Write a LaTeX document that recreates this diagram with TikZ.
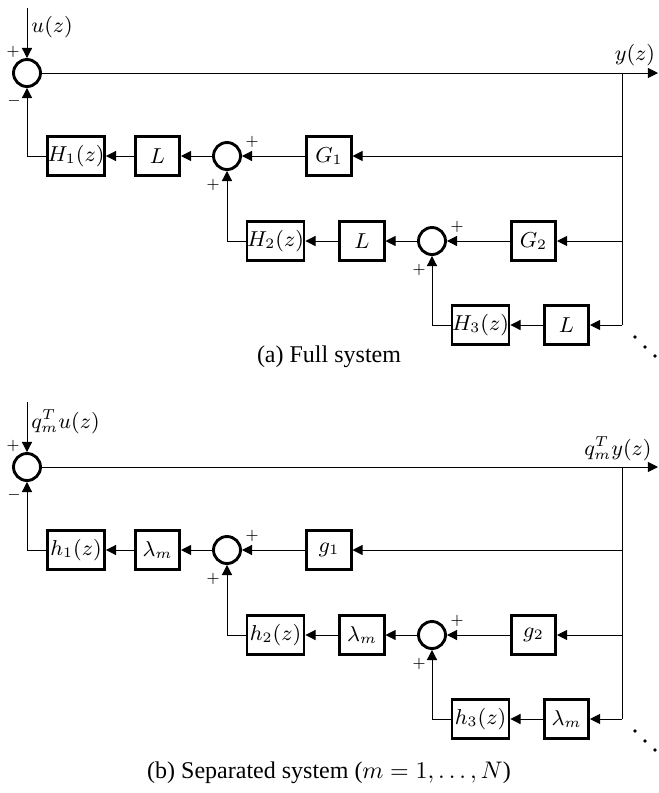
\documentclass[tikz,border=0pt]{standalone}
\usepackage{fontspec}
\setmainfont{Liberation Serif}
\usetikzlibrary{arrows.meta}
\begin{document}
\begin{tikzpicture}[x=0.41667pt,y=-0.41667pt,
  blk/.style={draw,very thick,minimum height=16.25pt,inner sep=0pt,font=\fontsize{9}{11}\selectfont},
  wide/.style={blk,minimum width=23.75pt},
  narrow/.style={blk,minimum width=18.4pt},
  sumc/.style={draw,very thick,circle,minimum size=11.25pt,inner sep=0pt},
  conn/.style={-{Triangle[length=4.2pt,width=4.2pt]},line width=0.4pt},
  wire/.style={line width=0.4pt},
  sgn/.style={font=\fontsize{6.5}{7}\selectfont,inner sep=0pt},
  lbl/.style={font=\fontsize{9}{11}\selectfont,inner sep=0pt},
  captxt/.style={font=\fontsize{10}{12}\selectfont,inner sep=0pt}]
\useasboundingbox (0,0) rectangle (658,793);

% ---------------- panel (a) ----------------
\coordinate (ain) at (27,8);
\node[sumc] (aS1) at (27,73) {};
\coordinate (aout) at (658,73);
\coordinate (abr0) at (622,73);
\coordinate (abr1) at (622,156);
\coordinate (abr2) at (622,241);
\coordinate (abr3) at (622,325);
\node[wide] (aH1) at (76,156) {$H_1(z)$};
\node[narrow] (aL1) at (157.5,156) {$L$};
\node[sumc] (aS2) at (227,156) {};
\node[narrow] (aG1) at (329,156) {$G_1$};
\node[wide] (aH2) at (275.5,241) {$H_2(z)$};
\node[narrow] (aL2) at (362,241) {$L$};
\node[sumc] (aS3) at (432,241) {};
\node[narrow] (aG2) at (533.5,241) {$G_2$};
\node[wide] (aH3) at (480.5,325) {$H_3(z)$};
\node[narrow] (aL3) at (566.5,325) {$L$};

\draw[conn] (ain) -- (aS1);
\draw[conn] (aS1) -- (aout);
\draw[wire] (abr0) -- (abr3);
\draw[conn] (abr1) -- (aG1);
\draw[conn] (aG1) -- (aS2);
\draw[conn] (aS2) -- (aL1);
\draw[conn] (aL1) -- (aH1);
\draw[conn] (aH1.west) -| (aS1.south);
\draw[conn] (abr2) -- (aG2);
\draw[conn] (aG2) -- (aS3);
\draw[conn] (aS3) -- (aL2);
\draw[conn] (aL2) -- (aH2);
\draw[conn] (aH2.west) -| (aS2.south);
\draw[conn] (abr3) -- (aL3);
\draw[conn] (aL3) -- (aH3);
\draw[conn] (aH3.west) -| (aS3.south);

\node[lbl,anchor=west] (au) at (31,27) {$u(z)$};
\node[lbl] (ay) at (635,55) {$y(z)$};
\node[sgn] (ap1) at (13,52) {$+$};
\node[sgn] (am1) at (14,101) {$-$};
\node[sgn] (ap2) at (252,142) {$+$};
\node[sgn] (ap3) at (213,185) {$+$};
\node[sgn] (ap4) at (457,227) {$+$};
\node[sgn] (ap5) at (419,270) {$+$};
\fill (635,337) circle (1.8) (645,347) circle (1.8) (655,356) circle (1.8);
\node[captxt] (acap) at (329,357) {(a) Full system};

% ---------------- panel (b) ----------------
\begin{scope}[yshift=-394*0.41667pt]
\coordinate (bin) at (27,8);
\node[sumc] (bS1) at (27,73) {};
\coordinate (bout) at (658,73);
\coordinate (bbr0) at (622,73);
\coordinate (bbr1) at (622,156);
\coordinate (bbr2) at (622,241);
\coordinate (bbr3) at (622,325);
\node[wide] (bH1) at (76,156) {$h_1(z)$};
\node[narrow] (bL1) at (157.5,156) {$\lambda_m$};
\node[sumc] (bS2) at (227,156) {};
\node[narrow] (bG1) at (329,156) {$g_1$};
\node[wide] (bH2) at (275.5,241) {$h_2(z)$};
\node[narrow] (bL2) at (362,241) {$\lambda_m$};
\node[sumc] (bS3) at (432,241) {};
\node[narrow] (bG2) at (533.5,241) {$g_2$};
\node[wide] (bH3) at (480.5,325) {$h_3(z)$};
\node[narrow] (bL3) at (566.5,325) {$\lambda_m$};

\draw[conn] (bin) -- (bS1);
\draw[conn] (bS1) -- (bout);
\draw[wire] (bbr0) -- (bbr3);
\draw[conn] (bbr1) -- (bG1);
\draw[conn] (bG1) -- (bS2);
\draw[conn] (bS2) -- (bL1);
\draw[conn] (bL1) -- (bH1);
\draw[conn] (bH1.west) -| (bS1.south);
\draw[conn] (bbr2) -- (bG2);
\draw[conn] (bG2) -- (bS3);
\draw[conn] (bS3) -- (bL2);
\draw[conn] (bL2) -- (bH2);
\draw[conn] (bH2.west) -| (bS2.south);
\draw[conn] (bbr3) -- (bL3);
\draw[conn] (bL3) -- (bH3);
\draw[conn] (bH3.west) -| (bS3.south);

\node[lbl,anchor=west] (bu) at (31,28) {$q_m^Tu(z)$};
\node[lbl] (by) at (618,55) {$q_m^Ty(z)$};
\node[sgn] (bp1) at (13,52) {$+$};
\node[sgn] (bm1) at (14,101) {$-$};
\node[sgn] (bp2) at (252,142) {$+$};
\node[sgn] (bp3) at (213,185) {$+$};
\node[sgn] (bp4) at (457,227) {$+$};
\node[sgn] (bp5) at (419,270) {$+$};
\fill (635,337) circle (1.8) (645,347) circle (1.8) (655,356) circle (1.8);
\node[captxt] (bcap) at (329,379) {(b) Separated system ($m=1,\ldots,N$)};
\end{scope}
\end{tikzpicture}
\end{document}
